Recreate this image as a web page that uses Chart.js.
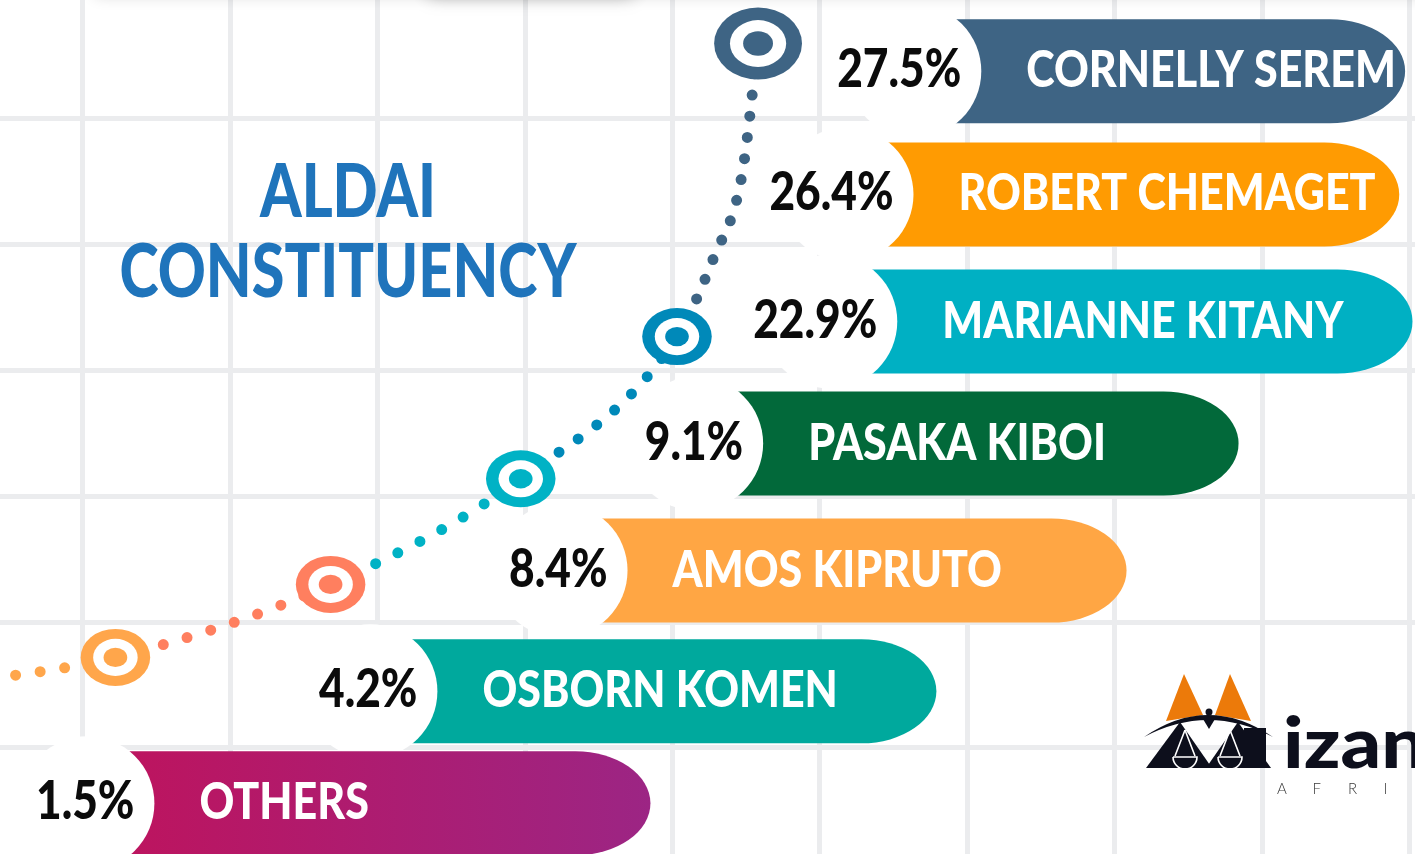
<!DOCTYPE html>
<html>
<head>
<meta charset="utf-8">
<script src="https://cdn.jsdelivr.net/npm/chart.js@4/dist/chart.umd.min.js"></script>
<style>
html,body{margin:0;padding:0;background:#ffffff;overflow:hidden}
canvas{display:block}
</style>
</head>
<body>
<canvas id="c" width="1415" height="854"></canvas>
<script>
// ---------------- data ----------------
const titleLines = ['ALDAI', 'CONSTITUENCY'];
const candidates = ['CORNELLY SEREM', 'ROBERT CHEMAGET', 'MARIANNE KITANY', 'PASAKA KIBOI', 'AMOS KIPRUTO', 'OSBORN KOMEN', 'OTHERS'];
const votePct = [27.5, 26.4, 22.9, 9.1, 8.4, 4.2, 1.5];
// floating bar ranges (grid units along x) and row positions (grid units along y)
const barFrom = [5.64, 5.18, 5.07, 4.16, 3.24, 1.95, 0.03];
const barTo   = [8.97, 8.93, 9.02, 7.84, 7.08, 5.79, 3.85];
const rowAt   = [-0.38, 0.60, 1.61, 2.58, 3.59, 4.55, 5.44];
// dotted trend path (grid units) and which of its points carry a target marker
const trendX = [-0.79, 0.22, 1.68, 2.97, 4.03, 4.28, 4.47, 4.58];
const trendY = [4.48, 4.28, 3.70, 2.86, 1.73, 1.10, 0.45, -0.60];
const trendIsMarker = [false, true, true, true, true, false, false, true];
const gridTicksX = [0, 1, 2, 3, 4, 5, 6, 7, 8, 9];
const gridTicksY = [0, 1, 2, 3, 4, 5];

// ---------------- styles ----------------
const FONT = '"Lato", "Roboto", "DejaVu Sans", sans-serif';
const barColors = ['#3e6484', '#ff9b02', '#00b0c3', '#02693a', '#ffa644', '#00a99d', null];
const othersGradient = ['#bf135c', '#9c2584'];
const markerColors = ['#ffa64b', '#ff7f5f', '#00b2c5', '#0089b9', '#3e6484'];
const gridColor = '#ebecee';
const titleColor = '#1f74bb';

function markerOrdinalFor(index) {
  let k = 0;
  for (let i = 0; i < trendIsMarker.length; i++) {
    if (trendIsMarker[i]) {
      if (i >= index) return k;
      k++;
    }
  }
  return k - 1;
}

function fitText(ctx, txt, x, y, sx, align) {
  ctx.save();
  ctx.translate(x, y);
  ctx.scale(sx, 1);
  ctx.textAlign = align;
  ctx.textBaseline = 'alphabetic';
  ctx.fillText(txt, 0, 0);
  ctx.restore();
}

function tri(ctx, a, b, c, d, e, f) {
  ctx.beginPath(); ctx.moveTo(a, b); ctx.lineTo(c, d); ctx.lineTo(e, f); ctx.closePath(); ctx.fill();
}

function drawLogo(ctx) {
  ctx.save();
  // orange peaks
  ctx.fillStyle = '#ec7a0a';
  tri(ctx, 1166, 721, 1184, 674, 1203, 715);
  tri(ctx, 1215, 715, 1230, 674, 1251, 721);
  ctx.fillStyle = '#0d0f1c';
  // arc
  ctx.beginPath();
  ctx.moveTo(1144, 737);
  ctx.quadraticCurveTo(1208, 693, 1273, 737);
  ctx.quadraticCurveTo(1208, 703, 1144, 737);
  ctx.fill();
  // head + body
  ctx.beginPath(); ctx.arc(1209, 712, 3.5, 0, Math.PI * 2); ctx.fill();
  tri(ctx, 1203, 719, 1215, 719, 1209, 729);
  // two legs of the M
  tri(ctx, 1146, 768, 1180, 722, 1212, 768);
  tri(ctx, 1206, 768, 1238, 722, 1271, 768);
  ctx.fillRect(1244, 728, 22, 40);
  // scales in white
  ctx.strokeStyle = '#ffffff';
  ctx.lineWidth = 1.6;
  [1185, 1230].forEach(cx => {
    ctx.beginPath();
    ctx.moveTo(cx, 730); ctx.lineTo(cx - 10, 756); ctx.moveTo(cx, 730); ctx.lineTo(cx + 10, 756);
    ctx.stroke();
    ctx.beginPath();
    ctx.moveTo(cx - 12, 757); ctx.lineTo(cx + 12, 757);
    ctx.arc(cx, 757, 12, 0, Math.PI);
    ctx.stroke();
  });
  // wordmark
  ctx.fillStyle = '#0d0f1c';
  ctx.font = '900 71px ' + FONT;
  fitText(ctx, 'izani', 1283, 768, 1.12, 'left');
  ctx.fillStyle = '#3a3a3a';
  ctx.font = '300 15px ' + FONT;
  ctx.textAlign = 'left';
  'AFRICA'.split('').forEach((ch, i) => ctx.fillText(ch, 1277 + 35.5 * i, 794));
  ctx.restore();
}

const infographic = {
  id: 'infographic',
  afterDatasetsDraw(chart) {
    const ctx = chart.ctx;
    const barMeta = chart.getDatasetMeta(0);
    const lineMeta = chart.getDatasetMeta(1);

    // target markers on the dotted path
    let k = 0;
    lineMeta.data.forEach((pt, i) => {
      if (!trendIsMarker[i]) return;
      const isTop = k === markerColors.length - 1;
      const ry = isTop ? 36 : 28.5;
      const rx = ry * 1.22;
      const col = markerColors[k];
      ctx.save();
      ctx.fillStyle = col;
      ctx.beginPath(); ctx.ellipse(pt.x, pt.y, rx, ry, 0, 0, Math.PI * 2); ctx.fill();
      ctx.fillStyle = '#ffffff';
      ctx.beginPath(); ctx.ellipse(pt.x, pt.y, rx * 0.64, ry * 0.65, 0, 0, Math.PI * 2); ctx.fill();
      ctx.fillStyle = col;
      ctx.beginPath(); ctx.ellipse(pt.x, pt.y, rx * 0.34, ry * 0.34, 0, 0, Math.PI * 2); ctx.fill();
      ctx.restore();
      k++;
    });

    // measure for uniform condensing of text
    ctx.save();
    ctx.font = '900 52px ' + FONT;
    const nameW = candidates.reduce((s, t) => s + ctx.measureText(t).width, 0);
    ctx.font = '900 53px ' + FONT;
    const pctW = votePct.reduce((s, v) => s + ctx.measureText(v.toFixed(1) + '%').width, 0);
    ctx.restore();
    const sxName = 2340 / nameW;
    const sxPct = 766 / pctW;

    // bars, badges, labels
    barMeta.data.forEach((el, i) => {
      const p = el.getProps(['x', 'y', 'base', 'height'], true);
      const x = p.x, y = p.y, base = p.base, h = p.height;
      const top = y - h / 2, bot = y + h / 2;
      const capRx = 75, capRy = h / 2;
      let fill = barColors[i];
      if (!fill) {
        const g = ctx.createLinearGradient(base, 0, x, 0);
        g.addColorStop(0, othersGradient[0]);
        g.addColorStop(1, othersGradient[1]);
        fill = g;
      }
      ctx.save();
      ctx.fillStyle = fill;
      ctx.beginPath();
      ctx.moveTo(base, top);
      ctx.lineTo(x - capRx, top);
      ctx.ellipse(x - capRx, y, capRx, capRy, 0, -Math.PI / 2, Math.PI / 2);
      ctx.lineTo(base, bot);
      ctx.closePath();
      ctx.fill();
      ctx.fillStyle = '#ffffff';
      ctx.beginPath(); ctx.arc(base, y, 67, 0, Math.PI * 2); ctx.fill();
      ctx.fillStyle = '#0b0b0b';
      ctx.font = '900 53px ' + FONT;
      fitText(ctx, votePct[i].toFixed(1) + '%', base + 47, y + 16, sxPct, 'right');
      ctx.fillStyle = '#ffffff';
      ctx.font = '900 52px ' + FONT;
      fitText(ctx, candidates[i], base + 67 + 45, y + 16, sxName, 'left');
      ctx.restore();
    });

    // title
    ctx.save();
    ctx.fillStyle = titleColor;
    ctx.font = '900 74px ' + FONT;
    const sxTitle = 457 / ctx.measureText(titleLines[1]).width;
    fitText(ctx, titleLines[0], 348, 217, sxTitle, 'center');
    fitText(ctx, titleLines[1], 348, 297, sxTitle, 'center');
    ctx.restore();

    drawLogo(ctx);
  },
  afterDraw(chart) {
    const ctx = chart.ctx;
    ctx.save();
    ctx.fillStyle = '#000';
    ctx.shadowColor = 'rgba(0,0,0,0.16)';
    ctx.shadowBlur = 14;
    ctx.fillRect(95, -80, 1400, 76);
    ctx.shadowColor = 'rgba(0,0,0,0.40)';
    ctx.shadowBlur = 18;
    ctx.fillRect(428, -80, 205, 74);
    ctx.restore();
  }
};

const gridScale = (min, max, ticks, reverse) => ({
  type: 'linear',
  min, max, reverse,
  offset: false,
  beginAtZero: false,
  display: true,
  grid: { color: gridColor, lineWidth: 5, drawTicks: false, offset: false },
  border: { display: false },
  ticks: { display: false },
  title: { display: false },
  afterBuildTicks: s => { s.ticks = ticks.map(v => ({ value: v })); }
});

new Chart(document.getElementById('c'), {
  type: 'bar',
  data: {
    datasets: [
      {
        type: 'bar',
        indexAxis: 'y',
        data: rowAt.map((r, i) => ({ x: [barFrom[i], barTo[i]], y: r })),
        backgroundColor: 'rgba(0,0,0,0)',
        borderWidth: 0,
        barThickness: 104,
        order: 2
      },
      {
        type: 'line',
        data: trendX.map((x, i) => ({ x, y: trendY[i] })),
        borderWidth: 11,
        borderCapStyle: 'round',
        borderDash: [0, 25],
        borderColor: markerColors[0],
        pointRadius: 0,
        fill: false,
        cubicInterpolationMode: 'monotone',
        segment: {
          borderColor: c => markerColors[markerOrdinalFor(c.p1DataIndex)],
          borderDash: c => {
            const k = markerOrdinalFor(c.p1DataIndex);
            return k === 4 ? [0, 21.3] : k === 3 ? [0, 23.3] : [0, 24.8];
          }
        },
        order: 1
      }
    ]
  },
  options: {
    responsive: false,
    animation: false,
    events: [],
    layout: { padding: 0 },
    scales: {
      x: gridScale(-0.563, 9.037, gridTicksX, false),
      y: gridScale(-0.946, 5.843, gridTicksY, true)
    },
    plugins: { legend: { display: false }, tooltip: { enabled: false }, title: { display: false } }
  },
  plugins: [infographic]
});
</script>
</body>
</html>
